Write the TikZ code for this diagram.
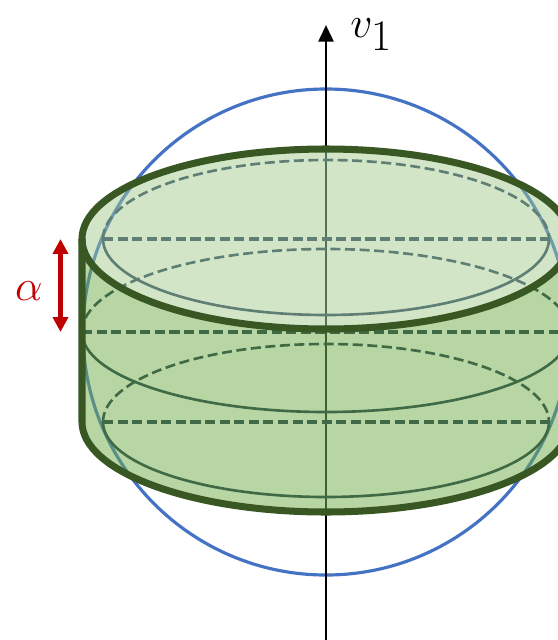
\documentclass[tikz,border=0pt]{standalone}
\usetikzlibrary{arrows.meta}
\definecolor{rimgreen}{HTML}{385723}
\definecolor{bodygreen}{HTML}{70AD47}
\definecolor{bodyline}{HTML}{3F6A45}
\definecolor{faceline}{HTML}{5F7F75}
\definecolor{faceaxis}{HTML}{56705A}
\definecolor{bodyaxis}{HTML}{3F6030}
\definecolor{facering}{HTML}{6F9BAA}
\definecolor{ringblue}{HTML}{4472C4}
\definecolor{alphared}{HTML}{C00000}
\begin{document}
\begin{tikzpicture}[
  x=0.02cm, y=-0.02cm,
  ring/.style={draw=ringblue, line width=1.8pt},
  axisline/.style={-{Triangle[length=9.5pt,width=8.5pt]}, line width=1.7pt},
  rim/.style={draw=rimgreen, line width=4pt, line join=round},
  inner/.style={line width=1.5pt},
  innerdash/.style={inner, dash pattern=on 5.7pt off 2.6pt},
  flatdash/.style={line width=1.72pt, dash pattern=on 5.7pt off 2.6pt},
  height/.style={{Triangle[length=8.5pt,width=8.5pt]}-{Triangle[length=8.5pt,width=8.5pt]}, draw=alphared, line width=2.4pt}
]
  \clip (0, 0) rectangle (558, 640);

  % Sphere and axis
  \coordinate (axisbot) at (326, 640);
  \coordinate (axistop) at (326, 25);
  \draw[ring] (326, 332) circle [radius=243];
  \draw[axisline] (axisbot) -- (axistop);

  % Cylinder body
  \fill[bodygreen, fill opacity=0.5] (82, 239) -- (82, 422)
    arc [start angle=180, end angle=0, x radius=244, y radius=90] -- (570, 239)
    arc [start angle=0, end angle=-180, x radius=244, y radius=90] -- cycle;
  \draw[bodyaxis, line width=1.7pt] (326, 329) -- (326, 512);

  % Slices seen through the body
  \begin{scope}[draw=bodyline]
    \draw[inner] (82, 332) arc [start angle=180, end angle=0, x radius=244, y radius=80];
    \draw[innerdash] (82, 332) arc [start angle=180, end angle=360, x radius=244, y radius=83];
    \draw[flatdash] (82, 332) -- (570, 332);
    \draw[inner] (103, 422) arc [start angle=180, end angle=0, x radius=223, y radius=75];
    \draw[innerdash] (103, 422) arc [start angle=180, end angle=360, x radius=223, y radius=78];
    \draw[flatdash] (103, 422) -- (549, 422);
  \end{scope}

  % Top face
  \fill[white] (326, 239) ellipse [x radius=244, y radius=90];
  \fill[bodygreen, fill opacity=0.5] (326, 239) ellipse [x radius=244, y radius=90];
  \fill[white, fill opacity=0.4] (326, 239) ellipse [x radius=244, y radius=90];
  \begin{scope}
    \clip (326, 239) ellipse [x radius=244, y radius=90];
    \draw[facering, line width=1.8pt] (326, 332) circle [radius=243];
    \draw[faceaxis, line width=1.7pt] (326, 149) -- (326, 329);
    \draw[faceline, innerdash] (82, 332) arc [start angle=180, end angle=360, x radius=244, y radius=83];
    \draw[faceline, inner] (103, 239) arc [start angle=180, end angle=0, x radius=223, y radius=76];
    \draw[faceline, innerdash] (103, 239) arc [start angle=180, end angle=360, x radius=223, y radius=79];
    \draw[faceline, flatdash] (103, 239) -- (549, 239);
  \end{scope}

  % Outline
  \draw[rim] (82, 239) -- (82, 422)
    arc [start angle=180, end angle=0, x radius=244, y radius=90] -- (570, 239);
  \draw[rim] (326, 239) ellipse [x radius=244, y radius=90];

  % Labels
  \coordinate (alphatop) at (60.5, 239);
  \coordinate (alphabot) at (60.5, 332);
  \draw[height] (alphabot) -- (alphatop);
  \node[text=alphared, font=\fontsize{45}{45}\selectfont, inner sep=0pt] (alphalabel) at (29, 291) {$\alpha$};
  \node[font=\fontsize{44}{44}\selectfont, inner sep=0pt, anchor=base west] (vlabel) at (350, 37) {$v_1$};
\end{tikzpicture}
\end{document}
